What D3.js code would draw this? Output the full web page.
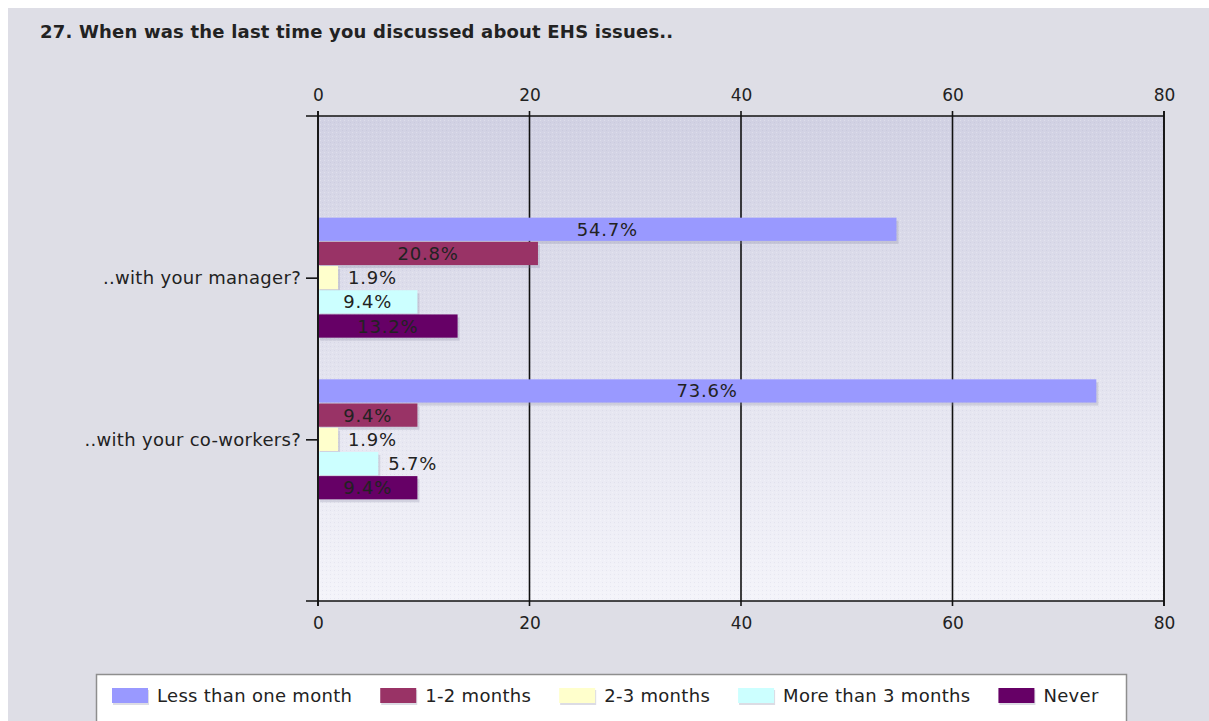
<!DOCTYPE html>
<html>
<head>
<meta charset="utf-8">
<script src="https://cdn.jsdelivr.net/npm/d3@7"></script>
<style>
  html, body { margin: 0; padding: 0; background: #ffffff; }
  svg { display: block; }
  text { font-family: "DejaVu Sans", Verdana, sans-serif; fill: #222; }
</style>
</head>
<body>
<svg id="chart" width="1209" height="721"></svg>
<script>
// ---- data ----
const title = "27. When was the last time you discussed about EHS issues..";
const categories = ["..with your manager?", "..with your co-workers?"];
const seriesNames = ["Less than one month", "1-2 months", "2-3 months", "More than 3 months", "Never"];
const seriesColors = ["#9999ff", "#993366", "#ffffcc", "#ccffff", "#660066"];
const lessThanOneMonth = [54.7, 73.6];
const oneToTwoMonths = [20.8, 9.4];
const twoToThreeMonths = [1.9, 1.9];
const moreThanThreeMonths = [9.4, 5.7];
const never = [13.2, 9.4];
const xTicks = [0, 20, 40, 60, 80];

const seriesValues = [lessThanOneMonth, oneToTwoMonths, twoToThreeMonths, moreThanThreeMonths, never];

// ---- layout ----
const svg = d3.select("#chart");
const W = 1209, H = 721;
const plot = { left: 318, right: 1164, top: 116, bottom: 601 };
const FONT = "'DejaVu Sans', Verdana, sans-serif";

// outer background
svg.append("rect").attr("x", 8).attr("y", 8).attr("width", W - 8).attr("height", H - 8).attr("fill", "#dedee6");

// title
svg.append("text").attr("x", 40).attr("y", 38)
  .style("font-weight", "bold").style("font-size", "18px").style("letter-spacing", "0.2px").attr("fill", "#111")
  .text(title);

// defs: gradient + dotted texture
const defs = svg.append("defs");
const grad = defs.append("linearGradient").attr("id", "plotGrad").attr("x1", 0).attr("y1", 0).attr("x2", 0).attr("y2", 1);
grad.append("stop").attr("offset", "0%").attr("stop-color", "#d1d1e3");
grad.append("stop").attr("offset", "50%").attr("stop-color", "#e2e2ee");
grad.append("stop").attr("offset", "100%").attr("stop-color", "#f4f4fa");
const pat = defs.append("pattern").attr("id", "dots").attr("width", 4).attr("height", 4).attr("patternUnits", "userSpaceOnUse");
pat.append("rect").attr("x", 0).attr("y", 0).attr("width", 1).attr("height", 1).attr("fill", "rgba(255,255,255,0.25)");
pat.append("rect").attr("x", 2).attr("y", 2).attr("width", 1).attr("height", 1).attr("fill", "rgba(150,150,180,0.12)");

// scales
const x = d3.scaleLinear().domain([0, 80]).range([plot.left, plot.right]);
const y = d3.scalePoint().domain(categories).range([plot.top, plot.bottom]).padding(1);
const inner = d3.scaleBand().domain(seriesNames).range([-60, 60]).paddingInner(0.04);

// plot background
svg.append("rect").attr("x", plot.left).attr("y", plot.top)
  .attr("width", plot.right - plot.left).attr("height", plot.bottom - plot.top)
  .attr("fill", "url(#plotGrad)");
svg.append("rect").attr("x", plot.left).attr("y", plot.top)
  .attr("width", plot.right - plot.left).attr("height", plot.bottom - plot.top)
  .attr("fill", "url(#dots)");

// gridlines (vertical) extending past the frame as ticks
svg.append("g").selectAll("line").data(xTicks).join("line")
  .attr("x1", d => x(d)).attr("x2", d => x(d))
  .attr("y1", plot.top - 5).attr("y2", plot.bottom + 5)
  .attr("stroke", "#111").attr("stroke-width", 1.6);

// top & bottom axes
const axTop = svg.append("g").attr("transform", `translate(0,${plot.top})`)
  .call(d3.axisTop(x).tickValues(xTicks).tickSize(0).tickPadding(15).tickFormat(d3.format("d")));
const axBot = svg.append("g").attr("transform", `translate(0,${plot.bottom})`)
  .call(d3.axisBottom(x).tickValues(xTicks).tickSize(0).tickPadding(16).tickFormat(d3.format("d")));
[axTop, axBot].forEach(a => {
  a.select(".domain").remove();
  a.selectAll("text").style("font-size", "17px").attr("fill", "#222").style("font-family", FONT);
});
// horizontal frame lines
[plot.top, plot.bottom].forEach(yy => {
  svg.append("line").attr("x1", plot.left - 12).attr("x2", plot.right)
    .attr("y1", yy).attr("y2", yy).attr("stroke", "#111").attr("stroke-width", 1.6);
});

// left category axis
const axLeft = svg.append("g").attr("transform", `translate(${plot.left},0)`)
  .call(d3.axisLeft(y).tickSize(12).tickPadding(5));
axLeft.select(".domain").remove();
axLeft.selectAll("line").attr("stroke", "#111").attr("stroke-width", 1.6);
axLeft.selectAll("text").style("font-size", "18px").style("letter-spacing", "0.3px")
  .attr("fill", "#222").style("font-family", FONT);

// bars
const barData = [];
categories.forEach((c, ci) => {
  seriesNames.forEach((s, si) => {
    barData.push({ cat: c, series: s, value: seriesValues[si][ci], color: seriesColors[si] });
  });
});

const bars = svg.append("g");
// shadows
bars.selectAll("rect.shadow").data(barData).join("rect").attr("class", "shadow")
  .attr("x", x(0) + 2)
  .attr("y", d => y(d.cat) + inner(d.series) + 3)
  .attr("width", d => x(d.value) - x(0))
  .attr("height", inner.bandwidth())
  .attr("fill", "rgba(140,140,165,0.28)");
bars.selectAll("rect.bar").data(barData).join("rect").attr("class", "bar")
  .attr("x", x(0) + 1)
  .attr("y", d => y(d.cat) + inner(d.series))
  .attr("width", d => x(d.value) - x(0) - 1)
  .attr("height", inner.bandwidth())
  .attr("fill", d => d.color);

// value labels
const labels = svg.append("g").selectAll("text").data(barData).join("text")
  .style("font-size", "18px").style("letter-spacing", "0.8px").attr("fill", "#222")
  .attr("y", d => y(d.cat) + inner(d.series) + inner.bandwidth() / 2 + 6.5)
  .text(d => d.value.toFixed(1) + "%");
labels.each(function(d) {
  const w = this.getComputedTextLength();
  const bw = x(d.value) - x(0);
  const t = d3.select(this);
  if (w + 16 < bw) {
    t.attr("x", x(0) + bw / 2).attr("text-anchor", "middle");
  } else {
    t.attr("x", x(d.value) + 10).attr("text-anchor", "start");
  }
});

// left & right frame lines (drawn over bars)
[plot.left, plot.right].forEach(xx => {
  svg.append("line").attr("x1", xx).attr("x2", xx)
    .attr("y1", plot.top - 5).attr("y2", plot.bottom + 5)
    .attr("stroke", "#111").attr("stroke-width", 1.6);
});

// legend
const lg = svg.append("g");
lg.append("rect").attr("x", 96.5).attr("y", 674.5).attr("width", 1030).attr("height", 50)
  .attr("fill", "#ffffff").attr("stroke", "#8e8e8e").attr("stroke-width", 1.5);
let lx = 112;
seriesNames.forEach((s, i) => {
  lg.append("rect").attr("x", lx + 1).attr("y", 690).attr("width", 36).attr("height", 15).attr("fill", "rgba(140,140,165,0.3)");
  lg.append("rect").attr("x", lx).attr("y", 688).attr("width", 36).attr("height", 15).attr("fill", seriesColors[i]);
  const t = lg.append("text").attr("x", lx + 45).attr("y", 702).style("font-size", "18px").style("letter-spacing", "0.3px")
    .attr("fill", "#222").text(s);
  lx = lx + 45 + t.node().getComputedTextLength() + 28;
});
</script>
</body>
</html>
